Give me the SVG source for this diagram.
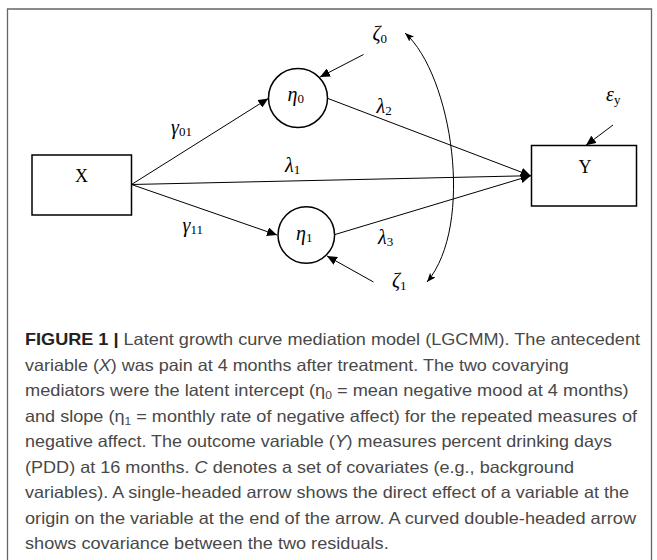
<svg xmlns="http://www.w3.org/2000/svg" width="657" height="560" viewBox="0 0 657 560">
  <defs>
    <marker id="arr" markerUnits="userSpaceOnUse" markerWidth="11" markerHeight="9" refX="10" refY="4.5" orient="auto">
      <path d="M0,0 L10,4.5 L0,9 z" fill="#000"/>
    </marker>
    <marker id="carr" markerUnits="userSpaceOnUse" markerWidth="10" markerHeight="8" refX="9" refY="3.5" orient="auto-start-reverse">
      <path d="M0,0 L9,3.5 L0,7 L2,3.5 z" fill="#000"/>
    </marker>
  </defs>
  <style>
    .frame { fill: none; stroke: #666; stroke-width: 1.3; }
    .box { fill: #fff; stroke: #000; stroke-width: 1.5; }
    .circ { fill: #fff; stroke: #000; stroke-width: 1.5; }
    .conn { fill: none; stroke: #000; stroke-width: 1; }
    .lbl { font-family: "Liberation Serif", "DejaVu Serif", serif; font-size: 20px; font-style: italic; fill: #000; }
    .sub { font-style: normal; font-size: 13px; }
    .var { font-family: "Liberation Serif", "DejaVu Serif", serif; font-size: 18px; fill: #000; }
    .cap { font-family: "Liberation Sans", Arial, sans-serif; font-size: 16.5px; fill: #484848; }
    .b { font-weight: bold; fill: #222; }
    .i { font-style: italic; }
    .cs { font-size: 11px; }
  </style>

  <path id="frame" class="frame" d="M7.5,560 L7.5,9 L651.5,9 L651.5,560"/>

  <g id="connectors">
    <path class="conn" d="M131.5,184.5 L268.3,98.5" marker-end="url(#arr)"/>
    <path class="conn" d="M131.5,184.5 L277,235" marker-end="url(#arr)"/>
    <path class="conn" d="M131.5,184.5 L530.7,175.7" marker-end="url(#arr)"/>
    <path class="conn" d="M328,98.5 L530.7,175.7" marker-end="url(#arr)"/>
    <path class="conn" d="M335,234.5 L530.7,175.7" marker-end="url(#arr)"/>
    <path class="conn" d="M363.5,54.5 L320,77" marker-end="url(#arr)"/>
    <path class="conn" d="M373.5,282 L327,256" marker-end="url(#arr)"/>
    <path class="conn" d="M613,125 L586,145.3" marker-end="url(#arr)"/>
    <path class="conn" d="M405,33 C452,75 475,225 427,282" marker-start="url(#carr)" marker-end="url(#carr)"/>
  </g>

  <g id="node-X">
    <rect class="box" x="32" y="155" width="99.5" height="60"/>
    <text class="var" x="81.5" y="182" text-anchor="middle">X</text>
  </g>
  <g id="node-Y">
    <rect class="box" x="531.5" y="145.5" width="105" height="60.5"/>
    <text class="var" x="585" y="173" text-anchor="middle">Y</text>
  </g>
  <g id="node-eta0">
    <circle class="circ" cx="298" cy="98" r="29.5"/>
    <text class="lbl" x="287.5" y="101">η<tspan class="sub" dy="2">0</tspan></text>
  </g>
  <g id="node-eta1">
    <circle class="circ" cx="306.3" cy="235" r="28.3"/>
    <text class="lbl" x="296" y="240">η<tspan class="sub" dy="2">1</tspan></text>
  </g>
  <g id="zeta0">
    <text class="lbl" x="372.5" y="40">ζ<tspan class="sub" dy="3">0</tspan></text>
  </g>
  <g id="zeta1">
    <text class="lbl" x="392" y="287">ζ<tspan class="sub" dy="3">1</tspan></text>
  </g>
  <g id="eps-y">
    <text class="lbl" x="606" y="101">ε<tspan class="sub" dy="3">y</tspan></text>
  </g>

  <g id="edge-labels">
    <text class="lbl" x="171" y="134">γ<tspan class="sub" dy="2">01</tspan></text>
    <text class="lbl" x="182.5" y="232">γ<tspan class="sub" dy="2">11</tspan></text>
    <text class="lbl" x="285" y="172">λ<tspan class="sub" dy="2">1</tspan></text>
    <text class="lbl" x="376.5" y="113">λ<tspan class="sub" dy="2">2</tspan></text>
    <text class="lbl" x="378" y="244">λ<tspan class="sub" dy="2">3</tspan></text>
  </g>

  <g id="caption">
    <text class="cap" x="25" y="345" textLength="615" lengthAdjust="spacingAndGlyphs"><tspan class="b">FIGURE 1 |</tspan> Latent growth curve mediation model (LGCMM). The antecedent</text>
    <text class="cap" x="25" y="370.5" textLength="543.7" lengthAdjust="spacingAndGlyphs">variable (<tspan class="i">X</tspan>) was pain at 4 months after treatment. The two covarying</text>
    <text class="cap" x="25" y="396" textLength="603.7" lengthAdjust="spacingAndGlyphs">mediators were the latent intercept (η<tspan class="cs" dy="3">0</tspan><tspan dy="-3"> = mean negative mood at 4 months)</tspan></text>
    <text class="cap" x="25" y="421.5" textLength="612" lengthAdjust="spacingAndGlyphs">and slope (η<tspan class="cs" dy="3">1</tspan><tspan dy="-3"> = monthly rate of negative affect) for the repeated measures of</tspan></text>
    <text class="cap" x="25" y="447" textLength="587" lengthAdjust="spacingAndGlyphs">negative affect. The outcome variable (<tspan class="i">Y</tspan>) measures percent drinking days</text>
    <text class="cap" x="25" y="472.5" textLength="549" lengthAdjust="spacingAndGlyphs">(PDD) at 16 months. <tspan class="i">C</tspan> denotes a set of covariates (e.g., background</text>
    <text class="cap" x="25" y="498" textLength="604" lengthAdjust="spacingAndGlyphs">variables). A single-headed arrow shows the direct effect of a variable at the</text>
    <text class="cap" x="25" y="523.5" textLength="611" lengthAdjust="spacingAndGlyphs">origin on the variable at the end of the arrow. A curved double-headed arrow</text>
    <text class="cap" x="25" y="549" textLength="363.7" lengthAdjust="spacingAndGlyphs">shows covariance between the two residuals.</text>
  </g>
</svg>
